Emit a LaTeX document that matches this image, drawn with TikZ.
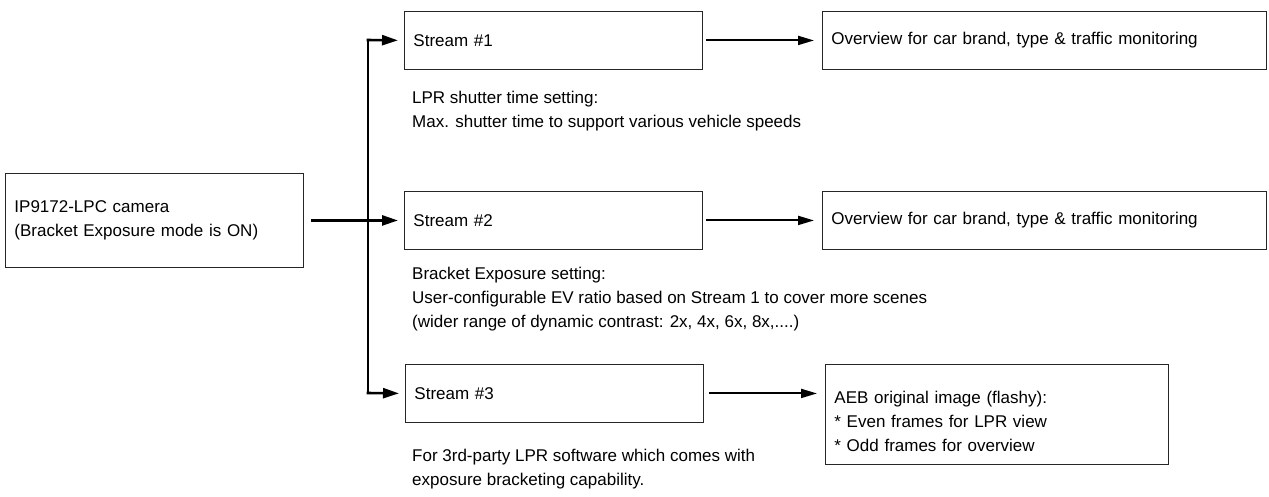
\documentclass[tikz,border=0pt]{standalone}
\usepackage{fontspec}
\setmainfont{Liberation Sans}
\usetikzlibrary{arrows.meta}
\begin{document}
\begin{tikzpicture}[x=1pt,y=-1pt,
  box/.style={draw=black!85, line width=0.9pt, anchor=north west, inner xsep=9pt, inner ysep=0pt,
    font=\fontsize{17}{24}\selectfont, align=left},
  note/.style={anchor=north west, inner sep=0pt, font=\fontsize{17}{24}\selectfont, align=left},
  main/.style={line width=2.6pt, -{Triangle[length=16pt,width=10pt]}},
  thin/.style={line width=2pt, -{Triangle[length=16pt,width=9pt]}}]
\useasboundingbox (0,0) rectangle (1269,497);
\node[box, minimum width=298pt, minimum height=94pt, text width=280pt] (cam) at (5,173) {IP9172-LPC camera\\(Bracket Exposure mode is ON)};
\node[box, minimum width=298pt, minimum height=58pt, text width=280pt] (s1) at (404,11) {Stream \#1};
\node[box, minimum width=298pt, minimum height=58pt, text width=280pt] (s2) at (404,191) {Stream \#2};
\node[box, minimum width=298pt, minimum height=58pt, text width=280pt] (s3) at (405,364) {Stream \#3};
\node[box, minimum width=444pt, minimum height=58pt, text width=426pt] (o1) at (822,11) {Overview for car brand, type \& traffic monitoring};
\node[box, minimum width=444pt, minimum height=58pt, text width=426pt] (o2) at (822,191) {Overview for car brand, type \& traffic monitoring};
\node[box, minimum width=343pt, minimum height=100pt, text width=325pt, inner xsep=8pt] (aeb) at (825,364) {\parbox{325pt}{\vspace{13pt}AEB original image (flashy):\\{}* Even frames for LPR view\\{}* Odd frames for overview}};
\node[note] (t1) at (412,91) {LPR shutter time setting:\\Max. shutter time to support various vehicle speeds};
\node[note] (t2) at (412,267) {Bracket Exposure setting:\\User-configurable EV ratio based on Stream 1 to cover more scenes\\(wider range of dynamic contrast: 2x, 4x, 6x, 8x,....)};
\node[note] (t3) at (412,449) {For 3rd-party LPR software which comes with\\exposure bracketing capability.};
\coordinate (j1) at (368,40);
\coordinate (j3) at (368,393);
\draw[main, shorten <=7pt, shorten >=6pt] (cam.east |- s2.west) -- (s2.west);
\draw[line width=2.6pt] (j1) -- (j3);
\draw[main, shorten >=6pt] ([xshift=-1.3pt]j1) -- (s1.west);
\draw[main, shorten >=6pt] ([xshift=-1.3pt]j3) -- (s3.west);
\draw[thin, shorten <=3pt, shorten >=8pt] (s1.east) -- (o1.west);
\draw[thin, shorten <=3pt, shorten >=8pt] (s2.east) -- (o2.west);
\draw[thin, shorten <=5pt, shorten >=8pt] (s3.east) -- (aeb.west |- s3.east);
\end{tikzpicture}
\end{document}
